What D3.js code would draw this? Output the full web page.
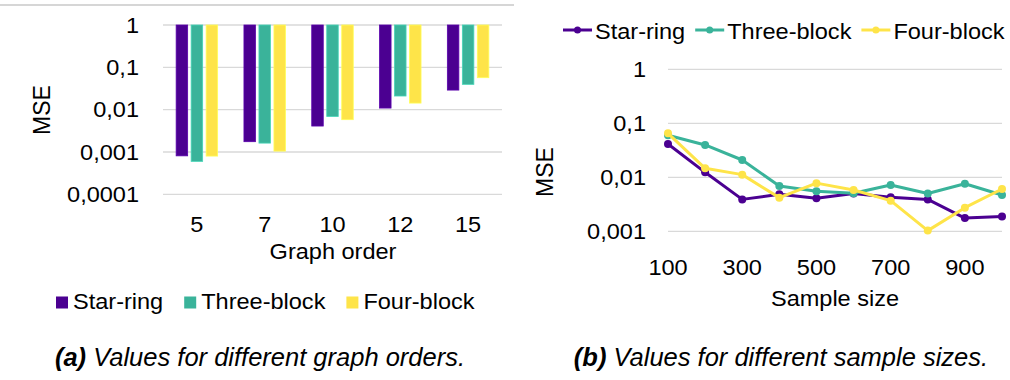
<!DOCTYPE html>
<html>
<head>
<meta charset="utf-8">
<script src="https://cdn.jsdelivr.net/npm/d3@7"></script>
<style>
  html, body { margin: 0; padding: 0; background: #fff; }
  svg { display: block; font-family: "Liberation Sans", Arial, Helvetica, sans-serif; }
</style>
</head>
<body>
<svg id="fig" width="1010" height="380"></svg>
<script>
// ---- data ----
const seriesNames = ["Star-ring", "Three-block", "Four-block"];
const seriesColors = ["#4B0091", "#3AB39A", "#FEE449"];

// (a) MSE by graph order
const graphOrders = ["5", "7", "10", "12", "15"];
const starRingByOrder   = [0.00081, 0.00175, 0.0041, 0.0109, 0.029];
const threeBlockByOrder = [0.00060, 0.00162, 0.0069, 0.021, 0.0396];
const fourBlockByOrder  = [0.00080, 0.00105, 0.0058, 0.0143, 0.0569];

// (b) MSE by sample size
const sampleSizes = [100, 200, 300, 400, 500, 600, 700, 800, 900, 1000];
const starRingBySize   = [0.0414, 0.01236, 0.0039, 0.00484, 0.00408, 0.0050, 0.00426, 0.0039, 0.00176, 0.00187];
const threeBlockBySize = [0.060, 0.0397, 0.0209, 0.0069, 0.0055, 0.00506, 0.0072, 0.0050, 0.0076, 0.0047];
const fourBlockBySize  = [0.0653, 0.01466, 0.0112, 0.0042, 0.0078, 0.00582, 0.00369, 0.00103, 0.00274, 0.00607];

const ticksA = [1, 0.1, 0.01, 0.001, 0.0001];
const ticksB = [1, 0.1, 0.01, 0.001];
const xTicksB = [100, 300, 500, 700, 900];

// ---- helpers ----
const svg = d3.select("#fig");
const SX = 1.07;           // horizontal stretch of chart lettering
const FS = 22;             // chart font size
const gridColor = "#d9d9d9";
const fmtComma = v => String(v).replace(".", ",");

function label(g, x, y, str, anchor, size) {
  return g.append("text")
    .attr("transform", `translate(${x},${y}) scale(${SX},1)`)
    .attr("text-anchor", anchor || "start")
    .attr("font-size", size || FS)
    .attr("fill", "#000")
    .text(str);
}
function vlabel(g, x, y, str, size) {
  return g.append("text")
    .attr("transform", `translate(${x},${y}) scale(${SX},1) rotate(-90)`)
    .attr("text-anchor", "middle")
    .attr("font-size", size)
    .attr("fill", "#000")
    .text(str);
}

// ================= (a) grouped bars =================
const gA = svg.append("g");
gA.append("line").attr("x1", 0).attr("x2", 514).attr("y1", 5).attr("y2", 5)
  .attr("stroke", "#c8c8c8").attr("stroke-width", 1.5);

const yA = d3.scaleLog().domain([1e-4, 1]).range([194.3, 25]);
const xA = d3.scaleBand().domain(graphOrders).range([163, 502])
  .paddingInner(0.388).paddingOuter(0.194);
const xSub = d3.scaleBand().domain(seriesNames).range([0, xA.bandwidth()])
  .paddingInner(0.233).paddingOuter(0);

gA.selectAll("line.grid").data(ticksA).join("line")
  .attr("class", "grid")
  .attr("x1", 163).attr("x2", 502)
  .attr("y1", d => yA(d)).attr("y2", d => yA(d))
  .attr("stroke", gridColor).attr("stroke-width", 1.3);

ticksA.forEach(t => label(gA, 139, yA(t) + 7.8, fmtComma(t), "end"));

const barSeries = [starRingByOrder, threeBlockByOrder, fourBlockByOrder];
barSeries.forEach((vals, si) => {
  const name = seriesNames[si];
  gA.append("g").selectAll("rect").data(vals).join("rect")
    .attr("x", (d, i) => xA(graphOrders[i]) + xSub(name))
    .attr("width", xSub.bandwidth())
    .attr("y", yA(1))
    .attr("height", d => yA(d) - yA(1))
    .attr("fill", seriesColors[si])
    .attr("stroke", d3.color(seriesColors[si]).brighter(0.5))
    .attr("stroke-width", 0.8);
});

graphOrders.forEach(c => label(gA, xA(c) + xA.bandwidth() / 2, 231.5, c, "middle"));
label(gA, 333, 258.5, "Graph order", "middle");
vlabel(gA, 50, 110, "MSE", 23);

// legend (a)
{
  let x = 56;
  seriesNames.forEach((name, i) => {
    gA.append("rect").attr("x", x).attr("y", 296.5).attr("width", 12).attr("height", 12)
      .attr("fill", seriesColors[i]);
    const t = label(gA, x + 17, 308.5, name, "start");
    x += 17 + t.node().getComputedTextLength() * SX + 21;
  });
}

// ================= (b) lines =================
const gB = svg.append("g");
const yB = d3.scaleLog().domain([0.001, 1]).range([231.3, 69.3]);
const xB = d3.scaleLinear().domain([100, 1000]).range([668, 1002]);

gB.selectAll("line.grid").data(ticksB).join("line")
  .attr("class", "grid")
  .attr("x1", 668).attr("x2", 1002)
  .attr("y1", d => yB(d)).attr("y2", d => yB(d))
  .attr("stroke", gridColor).attr("stroke-width", 1.3);

ticksB.forEach(t => label(gB, 646, yB(t) + 7.8, fmtComma(t), "end"));
xTicksB.forEach(t => label(gB, xB(t), 274.5, String(t), "middle"));
label(gB, 835, 305.5, "Sample size", "middle");
vlabel(gB, 553, 172, "MSE", 23);

const lineSeries = [starRingBySize, threeBlockBySize, fourBlockBySize];
const lineGen = d3.line().x((d, i) => xB(sampleSizes[i])).y(d => yB(d));
lineSeries.forEach((vals, si) => {
  const g = gB.append("g");
  g.append("path").attr("d", lineGen(vals))
    .attr("fill", "none").attr("stroke", seriesColors[si])
    .attr("stroke-width", 3).attr("stroke-linejoin", "round");
  g.selectAll("circle").data(vals).join("circle")
    .attr("cx", (d, i) => xB(sampleSizes[i])).attr("cy", d => yB(d))
    .attr("r", 4).attr("fill", seriesColors[si]);
});

// legend (b)
{
  let x = 563;
  seriesNames.forEach((name, i) => {
    gB.append("line").attr("x1", x).attr("x2", x + 29).attr("y1", 30).attr("y2", 30)
      .attr("stroke", seriesColors[i]).attr("stroke-width", 3);
    gB.append("circle").attr("cx", x + 14.5).attr("cy", 30).attr("r", 3.5)
      .attr("fill", seriesColors[i]);
    const t = label(gB, x + 32, 38.5, name, "start");
    x += 32 + t.node().getComputedTextLength() * SX + 10;
  });
}

// ================= captions =================
function caption(cx, tag, rest) {
  const t = svg.append("text").attr("x", cx).attr("y", 366)
    .attr("text-anchor", "middle").attr("font-size", 25.5)
    .attr("font-style", "italic").attr("fill", "#000");
  t.append("tspan").attr("font-weight", "bold").text(tag);
  t.append("tspan").text(" " + rest);
}
caption(260, "(a)", "Values for different graph orders.");
caption(781, "(b)", "Values for different sample sizes.");
</script>
</body>
</html>
